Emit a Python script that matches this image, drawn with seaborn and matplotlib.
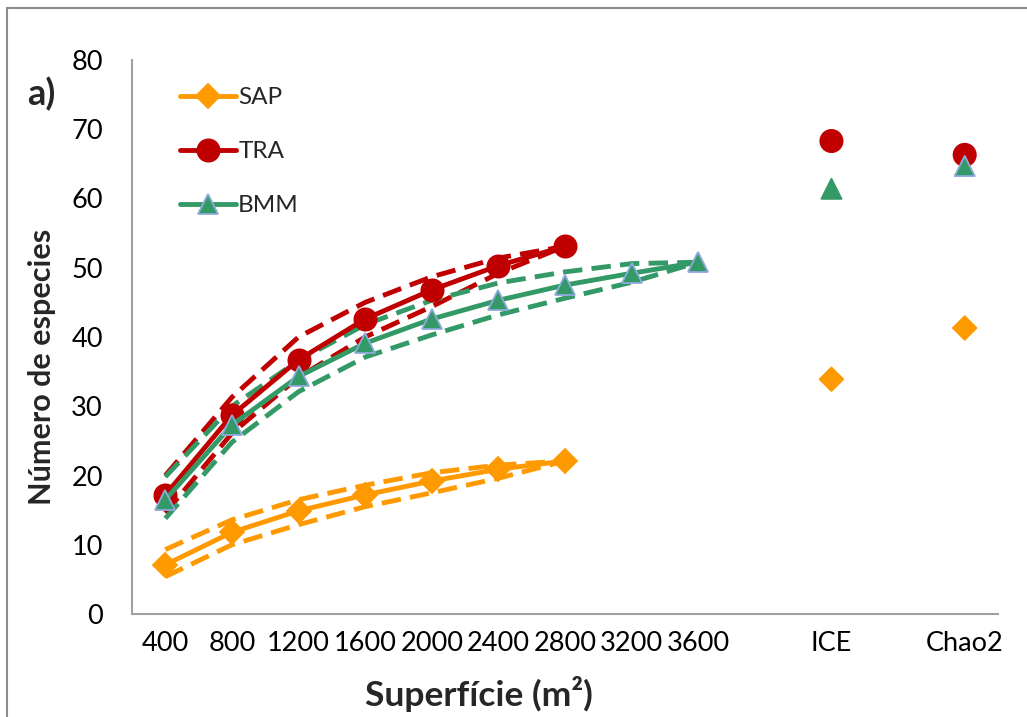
import numpy as np
import pandas as pd
import matplotlib
matplotlib.use("Agg")
import matplotlib.pyplot as plt
import seaborn as sns
from matplotlib.patches import Rectangle
from matplotlib.lines import Line2D

# ---- data ----
categories = ["400", "800", "1200", "1600", "2000", "2400", "2800", "3200", "3600", "", "ICE", "", "Chao2"]

sap_x = ["400", "800", "1200", "1600", "2000", "2400", "2800"]
sap = [7.1, 11.8, 14.9, 17.2, 19.2, 20.9, 22.1]
sap_hi = [9.3, 13.6, 16.5, 18.6, 20.4, 21.5, 22.1]
sap_lo = [5.4, 10.0, 12.9, 15.5, 17.5, 19.6, 22.1]

tra_x = ["400", "800", "1200", "1600", "2000", "2400", "2800"]
tra = [17.2, 28.7, 36.7, 42.6, 46.8, 50.3, 53.1]
tra_hi = [20.0, 31.3, 40.0, 45.0, 48.7, 51.4, 53.1]
tra_lo = [14.6, 26.1, 34.2, 40.0, 44.4, 49.2, 53.1]

bmm_x = ["400", "800", "1200", "1600", "2000", "2400", "2800", "3200", "3600"]
bmm = [16.5, 27.3, 34.3, 39.1, 42.6, 45.3, 47.5, 49.2, 50.8]
bmm_hi = [19.8, 30.0, 36.6, 41.8, 45.3, 47.8, 49.4, 50.6, 50.8]
bmm_lo = [13.8, 24.8, 32.1, 37.1, 40.3, 43.2, 45.6, 47.9, 50.8]

est_x = ["ICE", "Chao2"]
sap_est = [33.9, 41.3]
tra_est = [68.3, 66.3]
bmm_est = [61.4, 64.7]

y_ticks = [0, 10, 20, 30, 40, 50, 60, 70, 80]

# ---- style ----
sns.set_theme(style="white")
plt.rcParams["font.family"] = ["Lato", "DejaVu Sans"]

C_SAP = "#FF9900"
C_TRA = "#C00000"
C_BMM = "#339966"
C_EDGE = "#8EA9DB"

fig = plt.figure(figsize=(10.27, 7.17), dpi=100)
ax = fig.add_axes([132 / 1027, 1 - 614 / 717, (998 - 132) / 1027, (614 - 60) / 717])

pos = {}
for i, c in enumerate(categories):
    if c:
        pos[c] = i

def px(xs):
    return [pos[c] for c in xs]

lw = 3.5
dash = (4.0, 1.9)

series = [
    ("SAP", sap_x, sap, sap_hi, sap_lo, sap_est, C_SAP, "D", 12, C_SAP, [C_SAP, C_SAP]),
    ("TRA", tra_x, tra, tra_hi, tra_lo, tra_est, C_TRA, "o", 16, C_TRA, [C_TRA, C_TRA]),
    ("BMM", bmm_x, bmm, bmm_hi, bmm_lo, bmm_est, C_BMM, "^", 14.5, C_EDGE, [C_BMM, C_EDGE]),
]

handles = []
for name, xs, v, hi, lo, est, col, mk, ms, ec, est_ec in series:
    xp = px(xs)
    for band in (hi, lo):
        sns.lineplot(x=xp, y=band, ax=ax, color=col, linewidth=lw,
                     linestyle=(0, dash), legend=False, zorder=2,
                     dash_capstyle="butt")
    sns.lineplot(x=xp, y=v, ax=ax, color=col, linewidth=lw, marker=mk,
                 markersize=ms, markeredgecolor=ec, markeredgewidth=1.3,
                 legend=False, zorder=3)
    sns.scatterplot(x=px(est_x), y=est, ax=ax, color=col, marker=mk,
                    s=ms ** 2, edgecolor=est_ec, linewidth=1.3, legend=False, zorder=3)
    handles.append(Line2D([], [], color=col, linewidth=lw, marker=mk,
                          markersize=ms, markeredgecolor=ec, markeredgewidth=1.3))

ax.set_xlim(-0.5, len(categories) - 0.5)
ax.set_ylim(0, 80)
ax.set_yticks(y_ticks)
ax.set_yticklabels([str(t) for t in y_ticks], fontsize=19.5)
ax.set_xticks(np.arange(len(categories)))
ax.set_xticklabels(categories, fontsize=19.5)
ax.set_xticks(np.arange(len(categories) + 1) - 0.5, minor=True)
ax.tick_params(axis="x", which="major", length=0, pad=12)
ax.tick_params(axis="x", which="minor", length=8, width=1.3, color="#A0A0A0", direction="out")
ax.tick_params(axis="y", which="major", length=9, width=1.3, color="#A0A0A0",
               direction="out", pad=12, labelcolor="black")
ax.tick_params(axis="x", labelcolor="black")

for s in ["top", "right"]:
    ax.spines[s].set_visible(False)
for s in ["left", "bottom"]:
    ax.spines[s].set_color("#A0A0A0")
    ax.spines[s].set_linewidth(1.5)

ax.set_xlabel("Superfície (m²)", fontsize=25.5, fontweight="bold")
ax.set_ylabel("Número de especies", fontsize=22, fontweight="bold")
ax.xaxis.set_label_coords(0.40, -0.112)
ax.yaxis.set_label_coords(-0.088, 0.446)

leg = ax.legend(handles, ["SAP", "TRA", "BMM"], loc="upper left",
                bbox_to_anchor=(0.03, 0.99), frameon=False, fontsize=17.5,
                handlelength=2.3, handletextpad=0.1, labelspacing=1.35)

fig.text(27 / 1027, 1 - 94 / 717, "a)", fontsize=26, fontweight="bold", va="center", ha="left")

fig.patches.append(Rectangle((7 / 1027, -0.05), 1.2, 1 - 8 / 717 + 0.05,
                             transform=fig.transFigure, fill=False,
                             edgecolor="#8C8C8C", linewidth=1.5))

fig.savefig("out.png", dpi=100)
